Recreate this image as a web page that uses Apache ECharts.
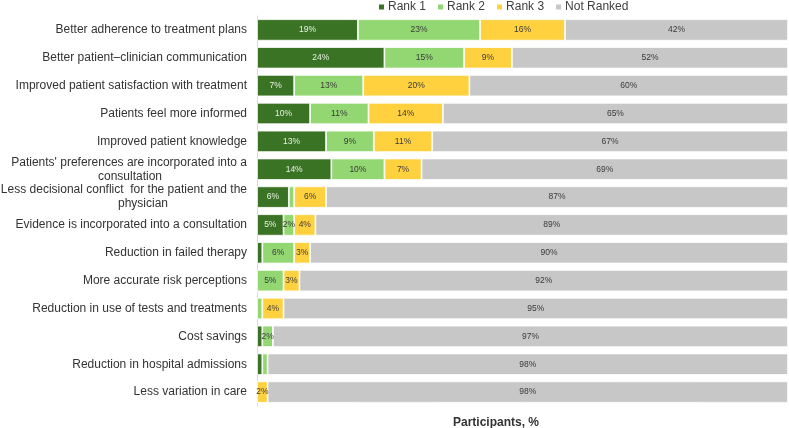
<!DOCTYPE html>
<html><head><meta charset="utf-8">
<script src="https://cdn.jsdelivr.net/npm/echarts@6/dist/echarts.min.js"></script>
<style>html,body{margin:0;padding:0;background:#fff}#c{width:789px;height:428px}</style>
</head><body><div id="c"></div>
<script>
var categories = [
  "Better adherence to treatment plans",
  "Better patient\u2013clinician communication",
  "Improved patient satisfaction with treatment",
  "Patients feel more informed",
  "Improved patient knowledge",
  "Patients' preferences are incorporated into a\nconsultation",
  "Less decisional conflict  for the patient and the\nphysician",
  "Evidence is incorporated into a consultation",
  "Reduction in failed therapy",
  "More accurate risk perceptions",
  "Reduction in use of tests and treatments",
  "Cost savings",
  "Reduction in hospital admissions",
  "Less variation in care"
];
var seriesNames = ["Rank 1", "Rank 2", "Rank 3", "Not Ranked"];
var rank1 = [19, 24, 7, 10, 13, 14, 6, 5, 1, 0, 0, 1, 1, 0];
var rank2 = [23, 15, 13, 11, 9, 10, 1, 2, 6, 5, 1, 2, 1, 0];
var rank3 = [16, 9, 20, 14, 11, 7, 6, 4, 3, 3, 4, 0, 0, 2];
var notRanked = [42, 52, 60, 65, 67, 69, 87, 89, 90, 92, 95, 97, 98, 98];

var colors = ["#3b7325", "#92d772", "#ffd13f", "#c7c7c7"];
var labelColors = ["#e8f0e4", "#3a3a3a", "#3a3a3a", "#3a3a3a"];
var allData = [rank1, rank2, rank3, notRanked];
var FONT = 'Liberation Sans, Arial, sans-serif';

var chart = echarts.init(document.getElementById('c'));
var series = seriesNames.map(function (n, i) {
  return {
    name: n, type: 'bar', stack: 'total', barWidth: '77%',
    data: allData[i],
    itemStyle: { color: colors[i], borderColor: '#ffffff', borderWidth: 0.8 },
    label: {
      show: true, position: 'inside', fontSize: 8.5, color: labelColors[i],
      fontFamily: FONT,
      formatter: function (p) { return p.value >= 2 ? p.value + '%' : ''; }
    },
    emphasis: { disabled: true }
  };
});

// right-side spacing for the second line of wrapped labels
var secondLineSpacer = { "consultation": 85, "physician": 79 };

chart.setOption({
  animation: false,
  color: colors,
  legend: {
    data: seriesNames, left: 377, top: 0, padding: 0, itemWidth: 7, itemHeight: 7, itemGap: 10,
    icon: 'rect',
    textStyle: { fontSize: 12, lineHeight: 14, color: '#404040', fontFamily: FONT, padding: [0, 0, 0, -2] }
  },
  grid: { left: 257, right: 1, top: 16, bottom: 22, containLabel: false, outerBoundsMode: 'none' },
  xAxis: {
    type: 'value', min: 0, max: 100,
    axisLine: { show: false }, axisTick: { show: false }, axisLabel: { show: false }, splitLine: { show: false },
    name: 'Participants, %', nameLocation: 'middle', nameGap: 11,
    nameTextStyle: { fontSize: 12, fontWeight: 'bold', color: '#333', fontFamily: FONT, padding: [0, 53, 0, 0] }
  },
  yAxis: {
    type: 'category', inverse: true, data: categories,
    axisLine: { show: true, lineStyle: { color: '#d9d9d9' } },
    axisTick: { show: false },
    axisLabel: {
      margin: 10, fontSize: 12, color: '#333', fontFamily: FONT,
      lineHeight: 14,
      formatter: function (v) {
        if (v.indexOf('\n') >= 0) {
          var parts = v.split('\n');
          return '{c|' + parts[0] + '}\n{c|' + parts[1] + '}{s' + secondLineSpacer[parts[1]] + '|}';
        }
        return v;
      },
      rich: {
        c: { fontSize: 12, lineHeight: 14, color: '#333', fontFamily: FONT },
        s85: { width: 85, lineHeight: 14 },
        s79: { width: 79, lineHeight: 14 }
      }
    }
  },
  series: series
});
</script></body></html>
